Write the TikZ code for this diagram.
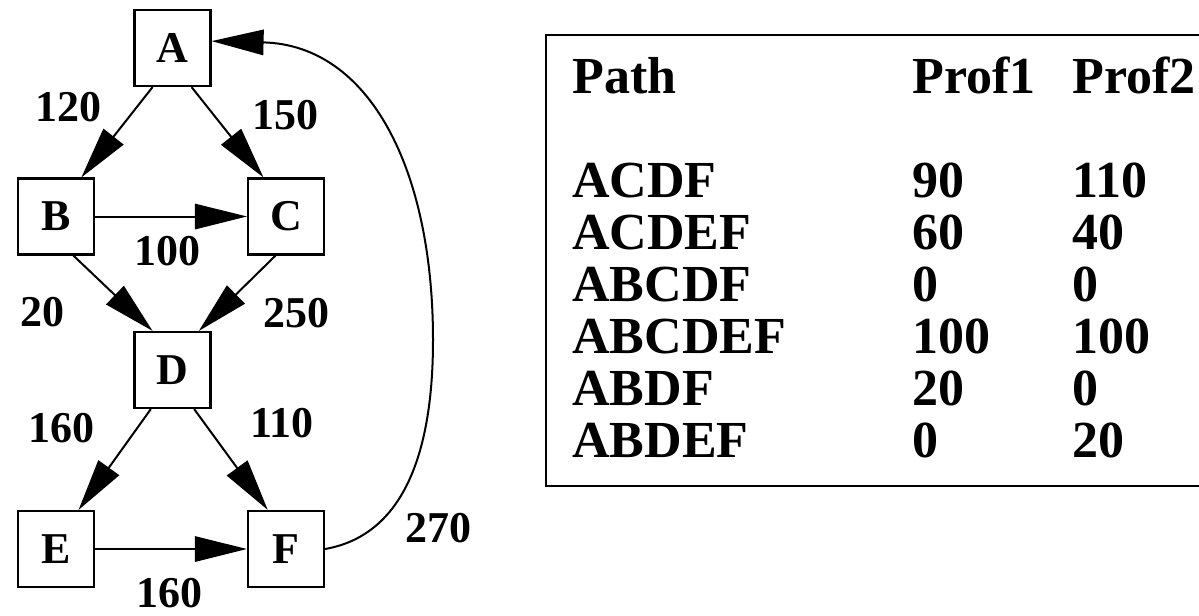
\documentclass[tikz,border=0pt]{standalone}
\usepackage{fontspec}
\setmainfont{Liberation Serif}
\usetikzlibrary{arrows.meta, positioning}
\tikzset{
x=0.75pt, y=-0.75pt, % one unit is one pixel, y runs downwards
>={Triangle[length=39pt, width=19pt]}, % the big filled heads
block/.style={draw, line width=1.6pt, minimum size=57pt, inner sep=0pt, font=\fontsize{33}{33}\selectfont\bfseries}, % the square nodes
weight/.style={inner sep=0pt, font=\fontsize{33}{33}\selectfont\bfseries}, % numbers next to the edges
link/.style={->, line width=1.5pt},
cell/.style={anchor=base west, inner sep=0pt, font=\fontsize{39}{39}\selectfont\bfseries}, % entries of the table
}

\begin{document}
\begin{tikzpicture}

    \path[use as bounding box, clip] (0,0) rectangle (1199,615);

    % the graph
    \node[block] (A) at (172.5,48) {A};
    \node[block] (B) at (56,216.5) {B};
    \node[block] (C) at (286,216.5) {C};
    \node[block] (D) at (172.5,370) {D};
    \node[block] (E) at (56,549) {E};
    \node[block] (F) at (286,549) {F};

    \draw[link] (A.-117) -- (B.57);
    \draw[link] (A.-64) -- (C.120);
    \draw[link] (B.east) -- (C.west);
    \draw[link] (B.-66) -- (D.117);
    \draw[link] (C.-105) -- (D.56);
    \draw[link] (D.-119) -- (E.60);
    \draw[link] (D.-61) -- (F.115);
    \draw[link] (E.east) -- (F.west);
    \draw[link] (F.east) .. controls (405,535) and (433,450) .. (433,340)
                         .. controls (433,170) and (370,45) .. (A.10);

    \node[weight] (wab) at (68,107) {120};
    \node[weight] (wac) at (285,115) {150};
    \node[weight] (wbc) at (167,251) {100};
    \node[weight] (wbd) at (43,312) {20};
    \node[weight] (wcd) at (296,313) {250};
    \node[weight] (wde) at (61,428) {160};
    \node[weight] (wdf) at (282,423) {110};
    \node[weight] (wef) at (169,593) {160};
    \node[weight] (wfa) at (438,528) {270};

    % the table
    \draw[line width=1.5pt] (546,35) rectangle (1240,486);
    \node[cell] (hpath) at (572,93) {Path};
    \node[cell] (hone) at (912,93) {Prof1};
    \node[cell] (htwo) at (1072,93) {Prof2};
    \foreach \route/\pone/\ptwo [count=\i] in {ACDF/90/110, ACDEF/60/40, ABCDF/0/0,
        ABCDEF/100/100, ABDF/20/0, ABDEF/0/20} {
        \node[cell] (r\i) at (572,145+52*\i) {\route};
        \node[cell] (ra\i) at (912,145+52*\i) {\pone};
        \node[cell] (rb\i) at (1072,145+52*\i) {\ptwo};
    }

\end{tikzpicture}
\end{document}
